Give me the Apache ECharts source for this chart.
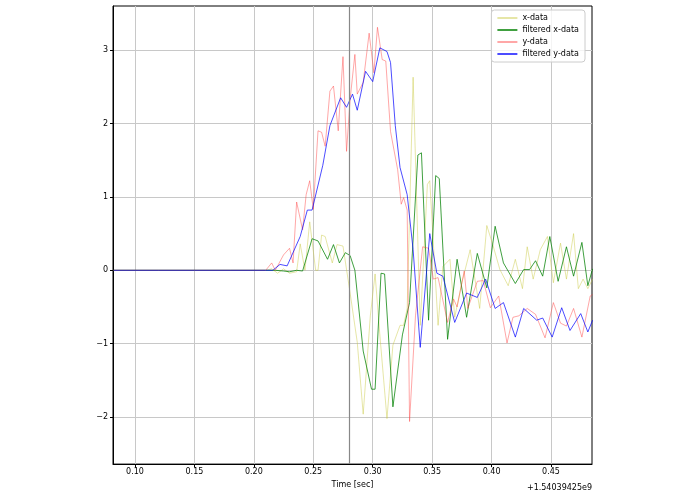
<!DOCTYPE html>
<html>
<head>
<meta charset="UTF-8">
<script src="https://cdn.jsdelivr.net/npm/echarts@6/dist/echarts.min.js"></script>
<style>
  body { margin: 0; background: #fff; }
  #chart { width: 695px; height: 494px; }
</style>
</head>
<body>
<div id="chart"></div>
<script>
// time offsets (s) relative to 1.54039425e9
const xTicks = [0.10, 0.15, 0.20, 0.25, 0.30, 0.35, 0.40, 0.45];
const yTicks = [-2, -1, 0, 1, 2, 3];
const markerTime = 0.2827;

const xData = [
  [0.082,0],[0.12,0],[0.15,0],[0.18,0],[0.21,0],[0.215,0.02],[0.220,-0.04],[0.225,0.02],[0.230,-0.04],
  [0.236,-0.02],[0.239,0.36],[0.243,0.0],[0.247,0.66],[0.252,0],[0.254,0],[0.257,0.48],[0.260,0.46],
  [0.266,0.1],[0.270,0.35],[0.275,0.33],[0.281,-0.31],[0.287,-0.98],[0.292,-1.96],[0.298,-0.62],
  [0.302,-0.05],[0.306,-0.88],[0.312,-2.02],[0.317,-1.02],[0.323,-0.75],[0.326,-0.75],[0.329,-0.52],
  [0.334,2.63],[0.340,-0.75],[0.346,1.17],[0.348,1.22],[0.355,-0.75],[0.359,0.05],[0.365,0.15],
  [0.369,-0.64],[0.375,-0.17],[0.382,0.28],[0.390,-0.52],[0.396,0.61],[0.401,0.35],[0.407,0.01],
  [0.414,-0.21],[0.420,0.15],[0.426,-0.25],[0.430,0.32],[0.435,-0.12],[0.441,0.28],[0.447,0.46],
  [0.452,-0.17],[0.458,0.37],[0.463,-0.12],[0.469,0.5],[0.473,-0.25],[0.477,-0.12],[0.481,-0.25],[0.485,-0.12]
];
const xFiltered = [
  [0.082,0],[0.12,0],[0.15,0],[0.18,0],[0.21,0],[0.218,0],[0.225,-0.01],[0.230,-0.02],[0.236,0.0],
  [0.241,-0.01],[0.249,0.43],[0.254,0.4],[0.262,0.15],[0.267,0.35],[0.272,0.1],[0.277,0.24],
  [0.281,0.2],[0.285,0],[0.292,-1.1],[0.299,-1.62],[0.302,-1.62],[0.307,-0.04],[0.310,-0.05],
  [0.317,-1.86],[0.325,-0.88],[0.331,-0.44],[0.338,1.57],[0.341,1.6],[0.347,-0.68],[0.353,1.29],
  [0.356,1.25],[0.363,-0.94],[0.371,0.15],[0.379,-0.64],[0.388,0.23],[0.396,-0.24],[0.403,0.6],
  [0.410,0.1],[0.420,-0.18],[0.427,0.01],[0.432,0.01],[0.437,0.13],[0.443,-0.08],[0.449,0.46],
  [0.456,-0.15],[0.463,0.32],[0.469,-0.08],[0.476,0.38],[0.481,-0.21],[0.485,0.02]
];
const yData = [
  [0.082,0],[0.12,0],[0.15,0],[0.18,0],[0.21,0],[0.215,0.1],[0.218,0.0],[0.225,0.21],[0.230,0.3],
  [0.233,0.1],[0.236,0.93],[0.241,0.55],[0.244,1.03],[0.247,1.22],[0.250,0.83],[0.254,1.9],
  [0.257,1.88],[0.260,1.69],[0.264,2.44],[0.267,2.51],[0.271,1.9],[0.275,2.91],[0.278,1.62],
  [0.281,2.33],[0.285,2.94],[0.287,2.4],[0.292,2.56],[0.297,3.23],[0.301,2.69],[0.304,3.31],
  [0.308,2.87],[0.311,2.85],[0.315,1.89],[0.321,1.37],[0.324,0.9],[0.326,0.99],[0.329,0.82],
  [0.331,-2.06],[0.336,-0.62],[0.342,0.32],[0.347,0.3],[0.351,-0.12],[0.355,-0.1],[0.363,-0.71],
  [0.368,-0.39],[0.371,-0.5],[0.377,-0.01],[0.380,-0.52],[0.388,-0.15],[0.393,-0.14],[0.399,-0.51],
  [0.406,-0.35],[0.413,-0.99],[0.418,-0.64],[0.423,-0.62],[0.430,-0.52],[0.437,-0.6],[0.445,-0.92],
  [0.452,-0.44],[0.458,-0.72],[0.463,-0.76],[0.469,-0.52],[0.476,-0.91],[0.483,-0.35],[0.485,-0.33]
];
const yFiltered = [
  [0.082,0],[0.12,0],[0.15,0],[0.18,0],[0.21,0],[0.216,0],[0.222,0.08],[0.228,0.06],[0.239,0.46],
  [0.245,0.82],[0.249,0.82],[0.258,1.43],[0.264,1.97],[0.273,2.35],[0.278,2.22],[0.283,2.4],
  [0.287,2.18],[0.294,2.71],[0.300,2.57],[0.306,3.03],[0.312,2.98],[0.315,2.83],[0.319,1.97],
  [0.323,1.4],[0.329,1.03],[0.334,0.28],[0.340,-1.05],[0.348,0.5],[0.354,-0.04],[0.359,-0.08],
  [0.369,-0.71],[0.379,-0.31],[0.388,-0.37],[0.395,-0.12],[0.403,-0.52],[0.410,-0.44],[0.420,-0.91],
  [0.427,-0.52],[0.438,-0.68],[0.443,-0.65],[0.451,-0.91],[0.459,-0.51],[0.466,-0.82],[0.475,-0.59],
  [0.481,-0.84],[0.485,-0.68]
];

const fmtMinus = v => (v < 0 ? '\u2212' + Math.abs(v) : String(v));
const line = (name, data, color, extra) => Object.assign({
  name, type: 'line', data, symbol: 'none', smooth: false,
  lineStyle: { color, width: 1 }, itemStyle: { color }
}, extra || {});

const option = {
  animation: false,
  backgroundColor: '#fff',
  textStyle: { fontFamily: 'DejaVu Sans' },
  grid: { left: 113, right: 103, top: 6, bottom: 22, show: true, borderColor: '#000', borderWidth: 1 },
  legend: {
    right: 110, top: 10, orient: 'vertical', itemWidth: 20, itemHeight: 2, itemGap: 4,
    icon: 'rect', borderColor: '#ccc', borderWidth: 1, borderRadius: 3, padding: [4, 6],
    backgroundColor: 'rgba(255,255,255,0.8)', textStyle: { fontSize: 8, color: '#000' }
  },
  xAxis: {
    type: 'value', min: 0.0815, max: 0.4845,
    name: 'Time [sec]', nameLocation: 'middle', nameGap: 11, nameTextStyle: { fontSize: 8, color: '#000' },
    axisLine: { onZero: false, lineStyle: { color: '#000' } },
    axisTick: { customValues: xTicks, length: 3, lineStyle: { color: '#000' } },
    axisLabel: { customValues: xTicks, fontSize: 8, color: '#000', margin: 4, formatter: v => v.toFixed(2) },
    splitLine: { show: true, lineStyle: { color: '#c8c8c8' } }
  },
  yAxis: {
    type: 'value', min: -2.64, max: 3.6,
    axisLine: { show: true, onZero: false, lineStyle: { color: '#000' } },
    axisTick: { show: true, customValues: yTicks, length: 3, lineStyle: { color: '#000' } },
    axisLabel: { customValues: yTicks, fontSize: 8, color: '#000', margin: 5, formatter: fmtMinus },
    splitLine: { show: true, lineStyle: { color: '#c8c8c8' } }
  },
  graphic: [{
    type: 'text', right: 103, bottom: 2,
    style: { text: '+1.54039425e9', fontSize: 8, fill: '#000', fontFamily: 'DejaVu Sans' }
  }],
  series: [
    line('x-data', xData, 'rgba(200,200,60,0.45)', {
      markLine: {
        silent: true, symbol: 'none', label: { show: false },
        lineStyle: { color: '#888', width: 1.2, type: 'solid' },
        data: [{ xAxis: markerTime }]
      }
    }),
    line('filtered x-data', xFiltered, 'rgba(0,128,0,0.75)'),
    line('y-data', yData, 'rgba(255,60,60,0.45)'),
    line('filtered y-data', yFiltered, 'rgba(0,0,255,0.7)')
  ]
};

const chart = echarts.init(document.getElementById('chart'));
chart.setOption(option);
</script>
</body>
</html>
